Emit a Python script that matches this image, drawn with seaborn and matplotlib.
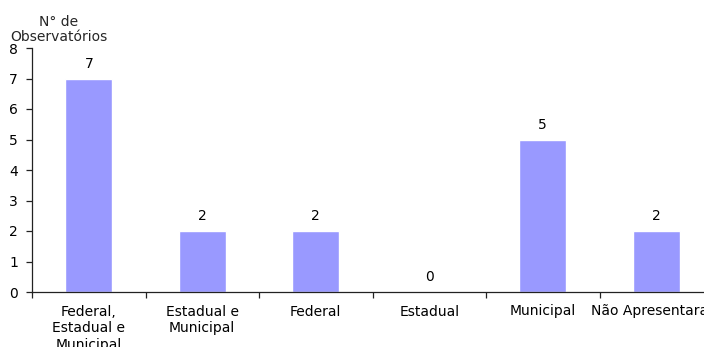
import matplotlib
matplotlib.use("Agg")
import matplotlib.pyplot as plt
import seaborn as sns
import pandas as pd

categorias = ["Federal,\nEstadual e\nMunicipal", "Estadual e\nMunicipal", "Federal",
              "Estadual", "Municipal", "Não Apresentaram"]
observatorios = [7, 2, 2, 0, 5, 2]

sns.set_theme(style="white")
plt.rcParams["font.family"] = ["DejaVu Sans"]

df = pd.DataFrame({"cat": categorias, "n": observatorios})

fig = plt.figure(figsize=(7.04, 3.47), dpi=100)
ax = fig.add_axes([32 / 704, 55 / 347, 681 / 704, 244 / 347])

sns.barplot(data=df, x="cat", y="n", color="#9999FF", saturation=1, width=0.41, ax=ax)

for i, v in enumerate(observatorios):
    ax.text(i, v + 0.25, str(v), ha="center", va="bottom", fontsize=10, color="black")

ax.set_xlim(-0.5, len(categorias) - 0.5)
ax.set_ylim(0, 8)
ax.set_yticks(range(0, 9))
ax.set_xlabel("")
ax.set_ylabel("")

for s in ("top", "right"):
    ax.spines[s].set_visible(False)
for s in ("left", "bottom"):
    ax.spines[s].set_color("#222222")
    ax.spines[s].set_linewidth(0.9)

ax.tick_params(axis="y", which="major", left=True, length=4, width=0.9, color="#222222",
               labelsize=10, labelcolor="black", pad=6)
ax.tick_params(axis="x", which="major", bottom=False, labelsize=10, labelcolor="black", pad=3)
ax.set_xticks(range(len(categorias)))
ax.set_xticklabels(categorias, linespacing=1.23)
ax.set_xticks([i - 0.5 for i in range(len(categorias))], minor=True)
ax.tick_params(axis="x", which="minor", bottom=True, length=4, width=0.9, color="#222222")

fig.text(59 / 704, 1 - 29.5 / 347, "N° de\nObservatórios", ha="center", va="center",
         fontsize=10, linespacing=1.08)

fig.savefig("out.png", dpi=100)
